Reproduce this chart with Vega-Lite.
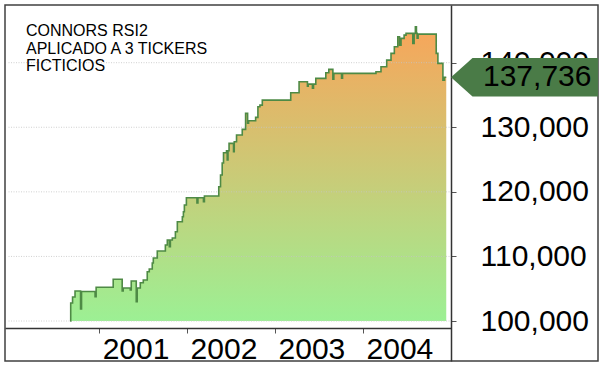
{
  "$schema": "https://vega.github.io/schema/vega-lite/v6.json",
  "width": 593,
  "height": 356,
  "autosize": "none",
  "padding": {"left": 5, "top": 5, "right": 6, "bottom": 6},
  "background": "white",
  "config": {
    "view": {"stroke": "#404040", "strokeWidth": 1.5},
    "font": "Liberation Sans",
    "title": {"fontSize": 16, "font": "Liberation Sans", "fontWeight": "normal", "color": "black"}
  },
  "title": {
    "text": ["CONNORS RSI2", "APLICADO A 3 TICKERS", "FICTICIOS"],
    "orient": "top",
    "anchor": "start",
    "frame": "group",
    "baseline": "top",
    "offset": -69,
    "dx": 21,
    "font": "Liberation Sans",
    "fontSize": 16,
    "fontWeight": "normal",
    "lineHeight": 17.5,
    "color": "black"
  },
  "datasets": {
    "equity": [
      {"t": 2000.670, "v": 100000}, {"t": 2000.677, "v": 102786}, {"t": 2000.698, "v": 103715},
      {"t": 2000.726, "v": 104644}, {"t": 2000.789, "v": 101858}, {"t": 2000.800, "v": 104567},
      {"t": 2000.954, "v": 103762}, {"t": 2000.966, "v": 105217}, {"t": 2001.160, "v": 106455},
      {"t": 2001.262, "v": 104644}, {"t": 2001.274, "v": 105108}, {"t": 2001.354, "v": 104799},
      {"t": 2001.365, "v": 106192}, {"t": 2001.422, "v": 102988}, {"t": 2001.433, "v": 105108},
      {"t": 2001.468, "v": 105929}, {"t": 2001.502, "v": 106347}, {"t": 2001.547, "v": 107632},
      {"t": 2001.570, "v": 108050}, {"t": 2001.604, "v": 108978}, {"t": 2001.616, "v": 109752},
      {"t": 2001.661, "v": 110836}, {"t": 2001.753, "v": 111765}, {"t": 2001.775, "v": 112539},
      {"t": 2001.798, "v": 111502}, {"t": 2001.810, "v": 112539}, {"t": 2001.832, "v": 112848},
      {"t": 2001.867, "v": 113824}, {"t": 2001.889, "v": 115372}, {"t": 2001.946, "v": 116146},
      {"t": 2001.958, "v": 116920}, {"t": 2001.969, "v": 117957}, {"t": 2001.992, "v": 119087},
      {"t": 2002.112, "v": 118266}, {"t": 2002.123, "v": 119087}, {"t": 2002.186, "v": 118468},
      {"t": 2002.197, "v": 119350}, {"t": 2002.360, "v": 120790}, {"t": 2002.380, "v": 122601},
      {"t": 2002.399, "v": 124458}, {"t": 2002.414, "v": 126053}, {"t": 2002.448, "v": 126362},
      {"t": 2002.456, "v": 124923}, {"t": 2002.465, "v": 126362}, {"t": 2002.477, "v": 127508},
      {"t": 2002.528, "v": 126208}, {"t": 2002.536, "v": 127756}, {"t": 2002.562, "v": 128793},
      {"t": 2002.627, "v": 129675}, {"t": 2002.665, "v": 132152}, {"t": 2002.688, "v": 130650},
      {"t": 2002.699, "v": 131006}, {"t": 2002.779, "v": 131533}, {"t": 2002.805, "v": 133174},
      {"t": 2002.828, "v": 133437}, {"t": 2002.855, "v": 134211}, {"t": 2003.178, "v": 135341},
      {"t": 2003.273, "v": 137044}, {"t": 2003.368, "v": 136378}, {"t": 2003.377, "v": 136688},
      {"t": 2003.425, "v": 136068}, {"t": 2003.437, "v": 136688}, {"t": 2003.463, "v": 137570},
      {"t": 2003.577, "v": 138437}, {"t": 2003.611, "v": 138963}, {"t": 2003.657, "v": 137462},
      {"t": 2003.668, "v": 138344}, {"t": 2003.756, "v": 137616}, {"t": 2003.767, "v": 138344},
      {"t": 2004.147, "v": 138592}, {"t": 2004.204, "v": 139366}, {"t": 2004.269, "v": 140403},
      {"t": 2004.318, "v": 141440}, {"t": 2004.356, "v": 142462}, {"t": 2004.395, "v": 144010},
      {"t": 2004.415, "v": 142725}, {"t": 2004.432, "v": 143762}, {"t": 2004.467, "v": 144273},
      {"t": 2004.489, "v": 144536}, {"t": 2004.566, "v": 142988}, {"t": 2004.581, "v": 144536},
      {"t": 2004.595, "v": 145558}, {"t": 2004.607, "v": 144536}, {"t": 2004.615, "v": 143808},
      {"t": 2004.626, "v": 144428}, {"t": 2004.832, "v": 141440}, {"t": 2004.851, "v": 139892},
      {"t": 2004.908, "v": 137307}, {"t": 2004.926, "v": 137736}, {"t": 2004.946, "v": 137736}
    ],
    "grid": [{"g": 100000}, {"g": 110000}, {"g": 120000}, {"g": 130000}, {"g": 140000}],
    "last": [{"v": 137736}]
  },
  "layer": [
    {
      "data": {"name": "equity"},
      "mark": {
        "type": "area",
        "interpolate": "step-after",
        "opacity": 1,
        "color": {
          "gradient": "linear",
          "x1": 0, "y1": 1, "x2": 0, "y2": 0,
          "stops": [
            {"offset": 0, "color": "#9cf094"},
            {"offset": 1, "color": "#f8a55a"}
          ]
        }
      },
      "encoding": {
        "x": {
          "field": "t", "type": "quantitative", "title": null,
          "scale": {"domain": [1999.93, 2005.0], "range": [0, 446], "nice": false, "zero": false},
          "axis": {
            "orient": "bottom", "offset": -33,
            "values": [2001, 2002, 2003, 2004], "labelExpr": "format(datum.value, 'd')",
            "labelAlign": "left", "labelBaseline": "top", "labelOffset": 3, "labelPadding": 1,
            "labelFontSize": 30, "labelFont": "Liberation Sans", "labelColor": "black",
            "tickSize": 5, "tickColor": "#555555", "tickWidth": 1,
            "domainColor": "#333333", "domainWidth": 1.5,
            "grid": false, "labelFlush": false, "labelOverlap": false, "title": null
          }
        },
        "y": {
          "field": "v", "type": "quantitative", "title": null,
          "scale": {"domain": [93806, 148935], "nice": false, "zero": false},
          "axis": {
            "orient": "right", "offset": -147,
            "values": [100000, 110000, 120000, 130000, 140000],
            "labelExpr": "format(datum.value, ',')",
            "labelFontSize": 30, "labelFont": "Liberation Sans", "labelColor": "black",
            "labelPadding": 24, "labelAlign": "left", "labelBaseline": "middle",
            "tickSize": 5, "tickColor": "#555555", "tickWidth": 1,
            "domainColor": "#333333", "domainWidth": 1.5,
            "grid": false, "labelFlush": false, "labelOverlap": false, "title": null
          }
        },
        "y2": {"datum": 100000}
      }
    },
    {
      "data": {"name": "grid"},
      "mark": {"type": "rule", "color": "#c4c4c4", "strokeWidth": 1, "strokeDash": [1, 1.5], "opacity": 0.8},
      "encoding": {
        "y": {"field": "g", "type": "quantitative", "title": null},
        "x": {"datum": 1999.97, "type": "quantitative", "title": null},
        "x2": {"datum": 2005.0}
      }
    },
    {
      "data": {"name": "equity"},
      "mark": {"type": "line", "interpolate": "step-after", "color": "#4e8a45", "strokeWidth": 1.6},
      "encoding": {
        "x": {"field": "t", "type": "quantitative", "title": null},
        "y": {"field": "v", "type": "quantitative", "title": null}
      }
    },
    {
      "data": {"name": "last"},
      "mark": {
        "type": "point",
        "shape": "M0,0L21.5,-19.2L147,-19.2L147,19.2L21.5,19.2Z",
        "size": 4,
        "filled": true,
        "color": "#4a7b47",
        "opacity": 1,
        "strokeWidth": 0
      },
      "encoding": {
        "x": {"datum": 2005.0, "type": "quantitative", "title": null},
        "y": {"field": "v", "type": "quantitative", "title": null}
      }
    },
    {
      "data": {"name": "last"},
      "mark": {
        "type": "text", "align": "left", "baseline": "middle", "dx": 32,
        "font": "Liberation Sans", "fontSize": 30, "color": "black"
      },
      "encoding": {
        "x": {"datum": 2005.0, "type": "quantitative", "title": null},
        "y": {"field": "v", "type": "quantitative", "title": null},
        "text": {"field": "v", "type": "quantitative", "format": ","}
      }
    }
  ]
}
